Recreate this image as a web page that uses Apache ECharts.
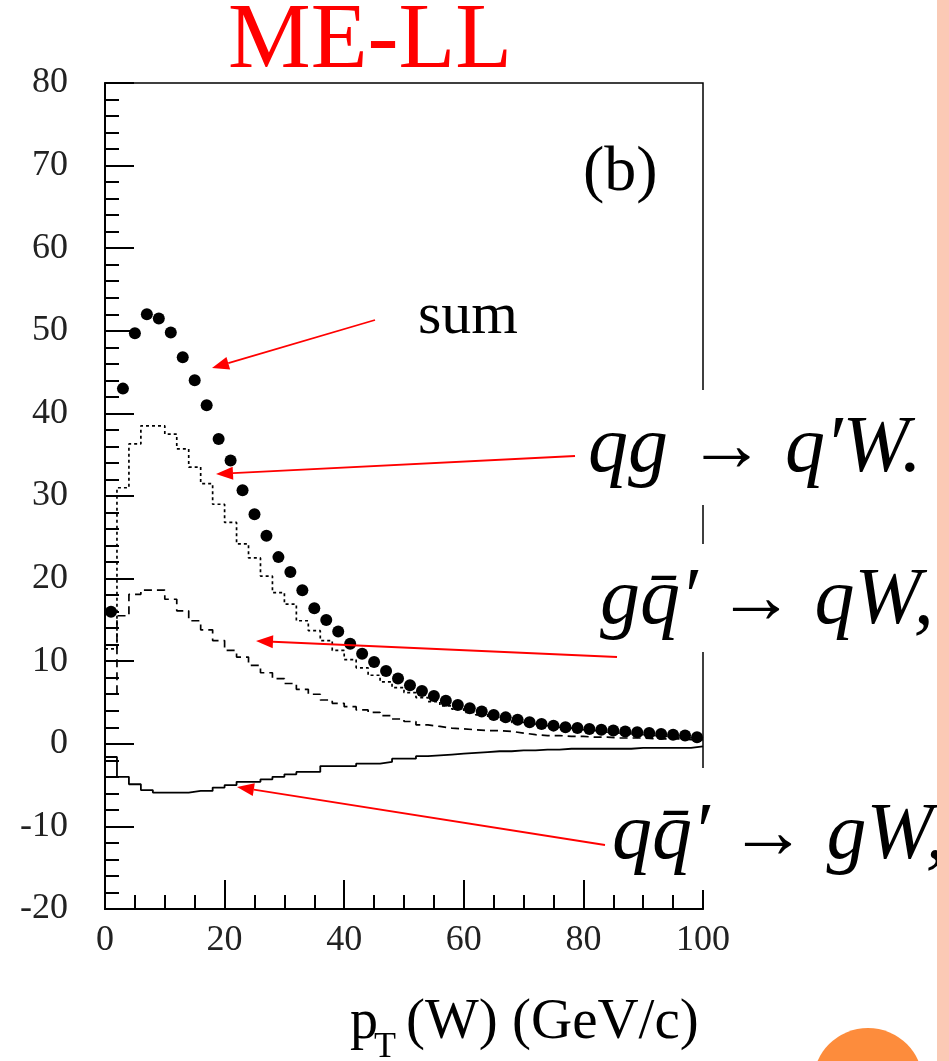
<!DOCTYPE html>
<html>
<head>
<meta charset="utf-8">
<script src="https://cdn.jsdelivr.net/npm/echarts@6/dist/echarts.min.js"></script>
<style>
  html,body{margin:0;padding:0;background:#fff;}
  #chart{width:949px;height:1061px;}
</style>
</head>
<body>
<div id="chart"></div>
<script>
(function(){
  // ===== Data: pT(W) in 2 GeV bins =====
  const binCenters = [1,3,5,7,9,11,13,15,17,19,21,23,25,27,29,31,33,35,37,39,
                      41,43,45,47,49,51,53,55,57,59,61,63,65,67,69,71,73,75,77,79,
                      81,83,85,87,89,91,93,95,97,99];
  const binHalfWidth = 1;

  // qg -> q'W (dotted)
  const qgVals = [11.5,31,36.3,38.5,38.5,37.5,35.7,33.5,31.5,29,
                  26.8,24.2,22.5,20.3,18.3,16.9,14.9,13.7,12.5,11.3,
                  10.2,9.2,8.3,7.5,6.8,6.2,5.6,5.1,4.6,4.2,
                  3.8,3.5,3.2,2.9,2.6,2.4,2.2,2.0,1.9,1.7,
                  1.6,1.4,1.3,1.2,1.1,1.0,0.9,0.8,0.7,0.6];
  // g qbar' -> qW (dashed)
  const gqbarVals = [6,15.5,18.1,18.6,18.6,17.5,16.1,14.9,13.8,12.5,
                     11.3,10.5,9.5,8.6,7.9,7.3,6.6,6.0,5.3,4.9,
                     4.5,4.1,3.8,3.4,3.0,2.7,2.3,2.1,1.9,1.8,
                     1.7,1.6,1.6,1.5,1.3,1.1,1.0,1.0,0.9,0.9,
                     0.8,0.8,0.7,0.7,0.7,0.6,0.6,0.6,0.5,0.5];
  // q qbar' -> gW (solid)
  const qqbarVals = [-1.6,-4.0,-4.9,-5.6,-5.9,-5.9,-5.9,-5.7,-5.7,-5.3,
                     -5.0,-4.6,-4.6,-4.3,-4.0,-3.7,-3.4,-3.4,-2.7,-2.7,
                     -2.7,-2.4,-2.4,-2.2,-1.8,-1.8,-1.5,-1.4,-1.3,-1.2,
                     -1.1,-1.0,-0.9,-0.9,-0.8,-0.8,-0.7,-0.7,-0.6,-0.6,
                     -0.6,-0.6,-0.6,-0.6,-0.5,-0.5,-0.5,-0.5,-0.5,-0.3];
  // sum (points)
  const sumVals = [16,43,49.7,52,51.5,49.8,46.8,44,41,36.9,
                   34.3,30.7,27.8,25.2,22.6,20.8,18.6,16.4,15.0,13.6,
                   12.1,10.9,9.9,8.8,7.9,7.1,6.4,5.8,5.2,4.7,
                   4.3,3.9,3.5,3.2,2.9,2.6,2.4,2.2,2.0,1.9,
                   1.8,1.7,1.6,1.5,1.4,1.3,1.2,1.1,1.0,0.8];

  const xTicks = {min:0, max:100, interval:20};
  const yTicks = {min:-20, max:80, interval:10};

  // ===== helpers =====
  function histData(vals){
    // left edge of each bin + closing point at last right edge (step:'end')
    const out = binCenters.map((c,i)=>[c-binHalfWidth, vals[i]]);
    out.push([binCenters[binCenters.length-1]+binHalfWidth, vals[vals.length-1]]);
    return out;
  }
  const SERIF = '"Liberation Serif","DejaVu Serif",serif';
  function arrow(x1,y1,x2,y2){
    const dx=x2-x1, dy=y2-y1, L=Math.sqrt(dx*dx+dy*dy), ux=dx/L, uy=dy/L;
    const hl=17, hw=6.5;
    const bx=x2-ux*hl, by=y2-uy*hl;
    return [
      {type:'line', z:110, shape:{x1:x1,y1:y1,x2:bx,y2:by}, style:{stroke:'#ff0000', lineWidth:1.8}},
      {type:'polygon', z:110, shape:{points:[[x2,y2],[bx-uy*hw,by+ux*hw],[bx+uy*hw,by-ux*hw]]}, style:{fill:'#ff0000'}}
    ];
  }
  function txt(x,y,text,font,fill){
    return {type:'text', z:120, x:x, y:y,
      style:{text:text, font:font, fill:fill||'#000', textAlign:'left', align:'left',
             textVerticalAlign:'middle', verticalAlign:'middle'}};
  }
  function richLabel(x,y,parts){
    return {type:'text', z:120, x:x, y:y, style:{
      text: parts, fill:'#000', align:'left', verticalAlign:'middle',
      textAlign:'left', textVerticalAlign:'middle',
      rich:{
        i:{fontFamily:SERIF, fontStyle:'italic', fontSize:80, fill:'#000'},
        n:{fontFamily:SERIF, fontSize:78, fill:'#000'}
      }
    }};
  }

  const chart = echarts.init(document.getElementById('chart'), null, {renderer:'canvas'});

  const axisCommon = {
    type:'value',
    axisLine:{show:true, onZero:false, lineStyle:{color:'#000', width:2}},
    axisTick:{show:true, inside:true, length:29, lineStyle:{color:'#000', width:2}},
    minorTick:{show:true, length:14, lineStyle:{color:'#000', width:2}},
    splitLine:{show:false},
    axisLabel:{fontFamily:SERIF, fontSize:36, color:'#222'}
  };

  const graphics = [
    // white boxes behind the reaction labels
    {type:'rect', z:100, shape:{x:578, y:390, width:360, height:115}, style:{fill:'#fff'}},
    {type:'rect', z:100, shape:{x:592, y:544, width:346, height:108}, style:{fill:'#fff'}},
    {type:'rect', z:100, shape:{x:606, y:768, width:332, height:122}, style:{fill:'#fff'}},
    // titles / labels
    txt(228, 43, 'ME-LL', '93px '+SERIF, '#ff0000'),
    txt(583, 173, '(b)', '64px '+SERIF),
    txt(418, 317, 'sum', '60px '+SERIF),
    richLabel(588, 450, '{i|qg}{n| → }{i|q′W.}'),
    richLabel(600, 602, '{i|gq\u0304′}{n| → }{i|qW,}'),
    richLabel(612, 837, '{i|qq\u0304′}{n| → }{i|gW,}'),
    // x axis name
    txt(350, 1023, 'p', '56px '+SERIF),
    txt(374, 1048, 'T', '36px '+SERIF),
    txt(406, 1023, '(W) (GeV/c)', '57px '+SERIF),
    // slide decorations
    {type:'rect', z:130, shape:{x:937, y:0, width:12, height:1061}, style:{fill:'#fbc9b5'}},
    {type:'circle', z:130, shape:{cx:868, cy:1083, r:55}, style:{fill:'#fd8c3c'}}
  ].concat(
    arrow(375,320, 212,368),
    arrow(575,456, 216,474),
    arrow(617,657, 256,641),
    arrow(605,845, 237,787)
  );

  chart.setOption({
    animation:false,
    backgroundColor:'#fff',
    grid:{left:105, right:246, top:83, bottom:152, outerBoundsMode:'none', containLabel:false,
          show:true, borderColor:'#000', borderWidth:1.5, backgroundColor:'transparent'},
    xAxis:Object.assign({}, axisCommon, {
      min:xTicks.min, max:xTicks.max, interval:xTicks.interval,
      minorTick:Object.assign({}, axisCommon.minorTick, {splitNumber:4}),
      axisLabel:Object.assign({}, axisCommon.axisLabel, {margin:14})
    }),
    yAxis:Object.assign({}, axisCommon, {
      min:yTicks.min, max:yTicks.max, interval:yTicks.interval,
      minorTick:Object.assign({}, axisCommon.minorTick, {splitNumber:5}),
      axisLabel:Object.assign({}, axisCommon.axisLabel, {margin:37})
    }),
    series:[
      {name:'qg', type:'line', step:'end', showSymbol:false, symbol:'none',
       data:histData(qgVals), lineStyle:{color:'#000', width:1.7, type:[3,3]}},
      {name:'gqbar', type:'line', step:'end', showSymbol:false, symbol:'none',
       data:histData(gqbarVals), lineStyle:{color:'#000', width:1.7, type:[8,5]}},
      {name:'qqbar', type:'line', step:'end', showSymbol:false, symbol:'none',
       data:histData(qqbarVals), lineStyle:{color:'#000', width:1.8}},
      {name:'sum', type:'scatter', symbol:'circle', symbolSize:12,
       data:binCenters.map((c,i)=>[c, sumVals[i]]), itemStyle:{color:'#000', opacity:1}}
    ],
    graphic:graphics
  });

  window.addEventListener('resize', ()=>chart.resize());
})();
</script>
</body>
</html>
